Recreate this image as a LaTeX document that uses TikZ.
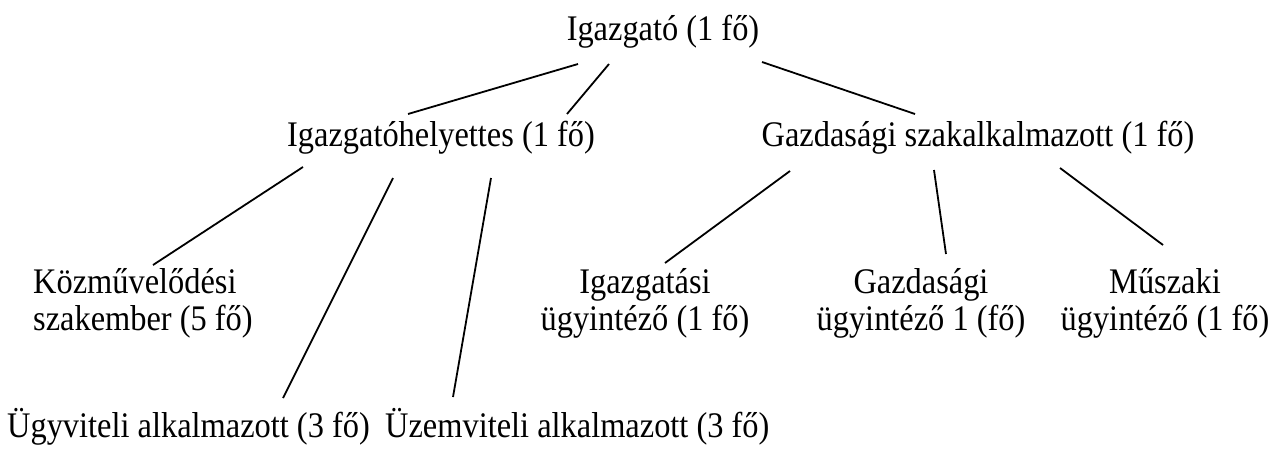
\documentclass[tikz,border=0pt]{standalone}
\usepackage{fontspec}
\setmainfont[FakeStretch=0.9]{Liberation Serif}
\begin{document}
\begin{tikzpicture}[x=1pt, y=-1pt,
  lbl/.style={inner sep=0pt, font=\fontsize{36}{37}\selectfont},
  link/.style={line width=1.8pt, line cap=butt}]
\useasboundingbox (0,0) rectangle (1282,450);

% staff boxes (text only)
\node[lbl, anchor=base] (dir) at (663,40) {Igazgató (1 fő)};
\node[lbl, anchor=base] (dep) at (441,146) {Igazgatóhelyettes (1 fő)};
\node[lbl, anchor=base] (eco) at (978,146) {Gazdasági szakalkalmazott (1 fő)};
\node[lbl, anchor=base west] (kozm) at (33,293)
  {\begin{tabular}[t]{@{}l@{}}Közművelődési\\ szakember (5 fő)\end{tabular}};
\node[lbl, anchor=base] (igu) at (645,293)
  {\begin{tabular}[t]{@{}c@{}}Igazgatási\\ ügyintéző (1 fő)\end{tabular}};
\node[lbl, anchor=base] (gau) at (921,293)
  {\begin{tabular}[t]{@{}c@{}}Gazdasági\\ ügyintéző 1 (fő)\end{tabular}};
\node[lbl, anchor=base] (muu) at (1165,293)
  {\begin{tabular}[t]{@{}c@{}}Műszaki\\ ügyintéző (1 fő)\end{tabular}};
\node[lbl, anchor=base west] (ugy) at (7,437) {Ügyviteli alkalmazott (3 fő)};
\node[lbl, anchor=base west] (uzem) at (385,437) {Üzemviteli alkalmazott (3 fő)};

% connector end points
\coordinate (dirA) at (578,64);  \coordinate (depA) at (408,114);
\coordinate (dirB) at (609,64);  \coordinate (depB) at (567,114);
\coordinate (dirC) at (762,62);  \coordinate (ecoA) at (915,114);
\coordinate (depC) at (303,167); \coordinate (kozmA) at (153,265);
\coordinate (depD) at (393,178); \coordinate (ugyA) at (283,398);
\coordinate (depE) at (491,178); \coordinate (uzemA) at (453,397);
\coordinate (ecoB) at (790,171); \coordinate (iguA) at (665,263);
\coordinate (ecoC) at (934,170); \coordinate (gauA) at (946,254);
\coordinate (ecoD) at (1060,168);\coordinate (muuA) at (1163,245);

% connectors
\draw[link] (dirA) -- (depA);
\draw[link] (dirB) -- (depB);
\draw[link] (dirC) -- (ecoA);
\draw[link] (depC) -- (kozmA);
\draw[link] (depD) -- (ugyA);
\draw[link] (depE) -- (uzemA);
\draw[link] (ecoB) -- (iguA);
\draw[link] (ecoC) -- (gauA);
\draw[link] (ecoD) -- (muuA);
\end{tikzpicture}
\end{document}
